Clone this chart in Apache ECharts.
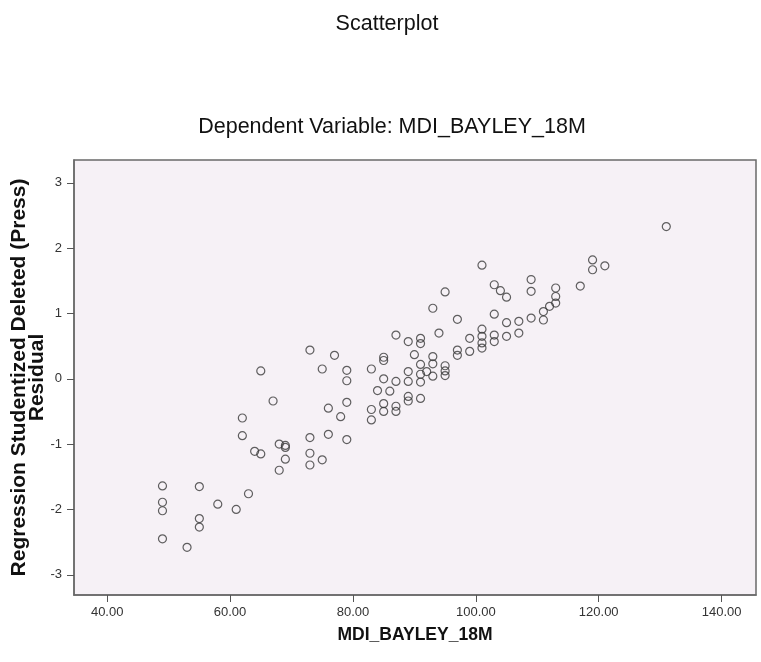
<!DOCTYPE html>
<html>
<head>
<meta charset="utf-8">
<script src="https://cdn.jsdelivr.net/npm/echarts@6/dist/echarts.min.js"></script>
<style>
html,body{margin:0;padding:0;background:#fff;}
#chart{width:761px;height:662px;}
</style>
</head>
<body>
<div id="chart"></div>
<script>
const chartTitle = 'Scatterplot';
const chartSubtitle = 'Dependent Variable: MDI_BAYLEY_18M';
const xAxisName = 'MDI_BAYLEY_18M';
const yAxisName = 'Regression Studentized Deleted (Press)\nResidual';
const xTicks = [40, 60, 80, 100, 120, 140];
const yTicks = [-3, -2, -1, 0, 1, 2, 3];
const xValues = [49,49,49,49,55,55,55,53,58,61,63,62,62,64,65,65,67,68,69,69,69,68,
  73,77,75,79,79,83,85,85,85,87,84,86,76,79,78,83,83,85,85,87,87,73,76,79,73,73,75,
  87,89,90,89,89,89,89,91,91,91,91,91,91,92,93,93,93,93,94,95,95,95,95,97,97,97,99,99,
  101,101,101,101,101,103,103,103,103,104,105,105,105,107,107,109,109,109,111,111,112,
  113,113,113,117,119,119,121,131];
const yValues = [-1.64,-1.89,-2.02,-2.45,-1.65,-2.14,-2.27,-2.58,-1.92,-2.00,-1.76,-0.60,-0.87,-1.11,-1.15,0.12,-0.34,-1.00,-1.02,-1.05,-1.23,-1.40,
  0.44,0.36,0.15,0.13,-0.03,0.15,0.33,0.28,0.00,-0.04,-0.18,-0.19,-0.45,-0.36,-0.58,-0.47,-0.63,-0.38,-0.50,-0.42,-0.50,-0.90,-0.85,-0.93,-1.14,-1.32,-1.24,
  0.67,0.57,0.37,0.11,-0.04,-0.27,-0.34,-0.30,0.62,0.54,0.22,0.07,-0.05,0.11,1.08,0.34,0.23,0.04,0.70,1.33,0.20,0.12,0.05,0.91,0.44,0.36,0.62,0.42,
  1.74,0.76,0.65,0.55,0.47,1.44,0.99,0.67,0.57,1.35,1.25,0.86,0.65,0.88,0.70,1.52,1.34,0.93,1.03,0.90,1.11,
  1.39,1.26,1.16,1.42,1.82,1.67,1.73,2.33];

const points = xValues.map((x, i) => [x, yValues[i]]);
const font = '"Liberation Sans", Arial, sans-serif';
const chart = echarts.init(document.getElementById('chart'), null, {renderer: 'canvas'});
chart.setOption({
  animation: false,
  backgroundColor: '#ffffff',
  title: [
    {text: chartTitle, left: 382, top: 8, textAlign: 'center',
     textStyle: {fontFamily: font, fontSize: 21.5, fontWeight: 'normal', color: '#111'}},
    {text: chartSubtitle, left: 387, top: 111, textAlign: 'center',
     textStyle: {fontFamily: font, fontSize: 21.5, fontWeight: 'normal', color: '#111'}}
  ],
  grid: {left: 74, right: 5, top: 160, bottom: 67, show: true, outerBoundsMode: 'none',
         containLabel: false,
         backgroundColor: '#f6f1f6', borderColor: '#6a6a6a', borderWidth: 1.5},
  xAxis: {
    type: 'value', min: 34.6, max: 145.6,
    name: xAxisName, nameLocation: 'middle', nameGap: 31, nameMoveOverlap: false,
    nameTextStyle: {fontFamily: font, fontSize: 17.5, fontWeight: 'bold', color: '#111'},
    axisLine: {show: true, onZero: false, lineStyle: {color: '#6a6a6a', width: 1.5}},
    axisTick: {show: true, length: 7, customValues: xTicks, lineStyle: {color: '#555'}},
    axisLabel: {customValues: xTicks, margin: 11, fontFamily: font, fontSize: 13, color: '#333',
                formatter: v => v.toFixed(2)},
    splitLine: {show: false}
  },
  yAxis: {
    type: 'value', min: -3.31, max: 3.35,
    name: yAxisName, nameLocation: 'middle', nameGap: 28, nameRotate: 90, nameMoveOverlap: false,
    nameTextStyle: {fontFamily: font, fontSize: 21, fontWeight: 'bold', color: '#111', lineHeight: 18, align: 'center'},
    axisLine: {show: true, onZero: false, lineStyle: {color: '#6a6a6a', width: 1.5}},
    axisTick: {show: true, length: 7, customValues: yTicks, lineStyle: {color: '#555'}},
    axisLabel: {customValues: yTicks, margin: 12, fontFamily: font, fontSize: 13, color: '#333'},
    splitLine: {show: false}
  },
  series: [{
    type: 'scatter',
    data: points,
    symbol: 'circle',
    symbolSize: 8,
    itemStyle: {color: 'rgba(0,0,0,0)', borderColor: '#3a3a3a', borderWidth: 1.2}
  }]
});
</script>
</body>
</html>
